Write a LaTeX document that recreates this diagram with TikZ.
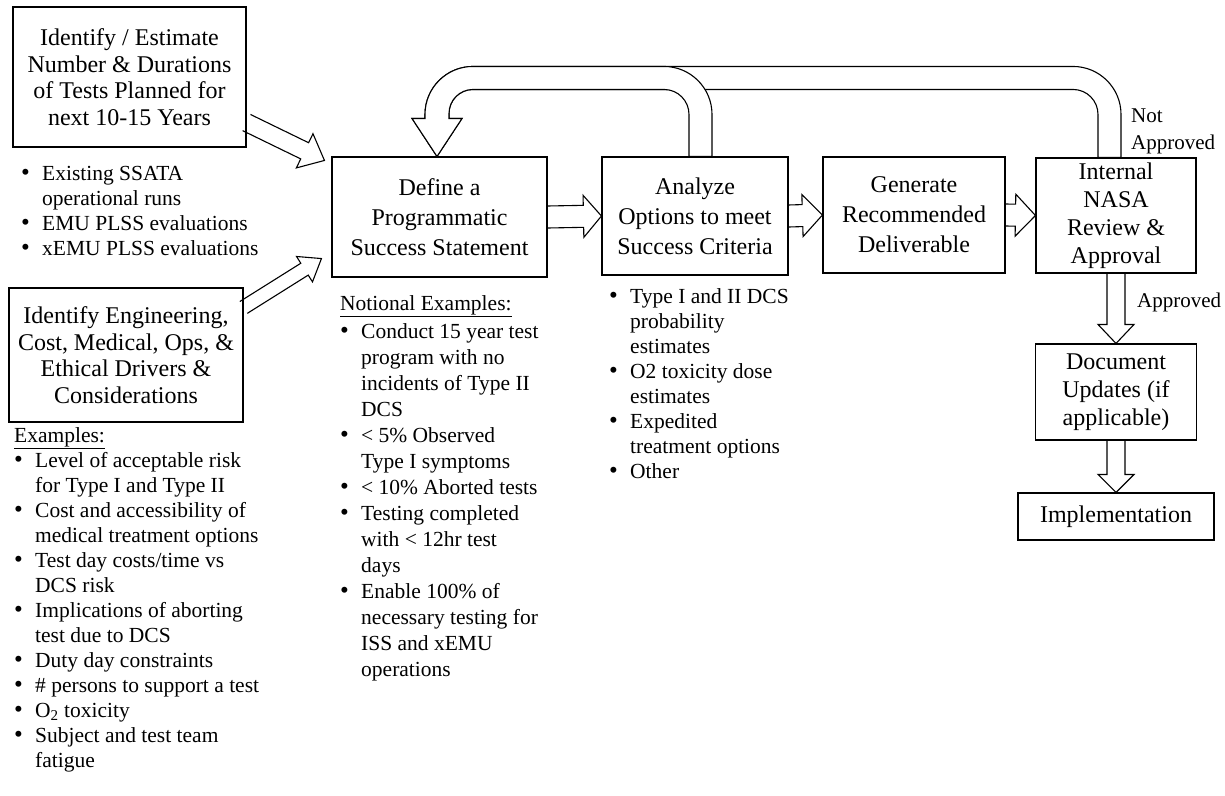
\documentclass[tikz,border=0pt]{standalone}
\usepackage{fontspec}
\setmainfont{Liberation Serif}
\usetikzlibrary{calc}
\newcommand{\itm}{\makebox[21pt][l]{\raisebox{-0.5pt}{\fontsize{25}{0}\selectfont\textbullet}}}
\newcommand{\cnt}{\hspace*{21pt}}
\newcommand{\fatarrow}[5]{%
  \coordinate (fa-b) at ($(#5)!#3pt!(#4)$);
  \draw[blockar] ($(#4)!#1pt!90:(#5)$) -- ($(fa-b)!#1pt!90:(#5)$) -- ($(fa-b)!#2pt!90:(#5)$) -- (#5)
     -- ($(fa-b)!#2pt!-90:(#5)$) -- ($(fa-b)!#1pt!-90:(#5)$) -- ($(#4)!#1pt!-90:(#5)$);}

\begin{document}
\begin{tikzpicture}[x=1pt,y=1pt,
  box/.style n args={3}{draw,fill=white,line width=1.1pt,inner sep=0pt,align=center,minimum width=#1pt,minimum height=#2pt,font=\fontsize{24}{#3}\selectfont},
  notes/.style={inner sep=0pt,align=left,anchor=north west,font=\fontsize{21.5}{25}\selectfont},
  blockar/.style={line width=1.1pt,line join=miter},
  loopar/.style={draw,fill=white,line width=1.1pt}]
\useasboundingbox (0,0) rectangle (1225,-795);

\node[box={233}{140}{26.5}] (idest) at (129.5,-77) {Identify / Estimate\\Number \& Durations\\of Tests Planned for\\next 10-15 Years};
\node[box={234}{134}{26.5}] (iddrv) at (126,-355) {Identify Engineering,\\Cost, Medical, Ops, \&\\Ethical Drivers \&\\Considerations};
\node[box={215}{120}{30}] (def) at (439.5,-217) {Define a\\Programmatic\\Success Statement};
\node[box={186}{118}{30}] (ana) at (695,-216) {Analyze\\Options to meet\\Success Criteria};
\node[box={182}{116}{30}] (gen) at (914,-215) {Generate\\Recommended\\Deliverable};
\node[box={160}{115}{28}] (rev) at (1116,-215.5) {Internal\\NASA\\Review \&\\Approval};
\node[box={161}{96}{28}] (doc) at (1116,-392) {Document\\Updates (if\\applicable)};
\node[box={196}{47}{28}] (impl) at (1116,-516.5) {Implementation};

\node[notes] (runs) at (21,-166) {\itm Existing SSATA\\\cnt operational runs\\\itm EMU PLSS evaluations\\\itm xEMU PLSS evaluations};
\node[notes] (drivers) at (14,-427) {\underline{Examples:}\\
\itm Level of acceptable risk\\\cnt for Type I and Type II\\
\itm Cost and accessibility of\\\cnt medical treatment options\\
\itm Test day costs/time vs\\\cnt DCS risk\\
\itm Implications of aborting\\\cnt test due to DCS\\
\itm Duty day constraints\\
\itm \# persons to support a test\\
\itm O\textsubscript{2} toxicity\\
\itm Subject and test team\\\cnt fatigue};
\node[notes,font=\fontsize{21.5}{26}\selectfont] (notional) at (340,-295) {\underline{Notional Examples:}\\[2pt]
\itm Conduct 15 year test\\\cnt program with no\\\cnt incidents of Type II\\\cnt DCS\\
\itm < 5\% Observed\\\cnt Type I symptoms\\
\itm < 10\% Aborted tests\\
\itm Testing completed\\\cnt with < 12hr test\\\cnt days\\
\itm Enable 100\% of\\\cnt necessary testing for\\\cnt ISS and xEMU\\\cnt operations};
\node[notes] (options) at (609,-288) {\itm Type I and II DCS\\\cnt probability\\\cnt estimates\\
\itm O2 toxicity dose\\\cnt estimates\\
\itm Expedited\\\cnt treatment options\\
\itm Other};

\node[anchor=west,align=left,inner sep=0pt,font=\fontsize{21}{27}\selectfont] (notappr) at (1131,-131) {Not\\Approved};
\node[anchor=west,inner sep=0pt,font=\fontsize{21}{27}\selectfont] (appr) at (1137,-302) {Approved};

\coordinate (ua) at ($(idest.south east)+(0,25)$);
\coordinate (ub) at ($(def.north west)+(-7,-4)$);
\coordinate (la) at ($(iddrv.north east)+(0,-20)$);
\coordinate (lb) at ($(def.south west)+(-10,19)$);
\fatarrow{9}{19}{22}{ua}{ub}
\fatarrow{7}{15}{20}{la}{lb}
\fatarrow{11}{21}{18}{def.east}{ana.west}
\fatarrow{11}{21}{20}{ana.east}{gen.west}
\fatarrow{11}{21}{20}{gen.east}{rev.west}
\fatarrow{9}{18}{19}{rev.south}{doc.north}
\fatarrow{9}{18}{18}{doc.south}{impl.north}

\coordinate (tip) at ($(def.north)+(-2.5,0)$);
\draw[loopar] ($(rev.north)+(-18,0)$) -- ++(0,43) arc[start angle=0,end angle=90,radius=25] -- ++(-600,0)
   arc[start angle=90,end angle=180,radius=24] -- ++(0,-5) -- ++(13,0) -- (tip) -- ++(-25,38) -- ++(13,0)
   -- ++(0,4) arc[start angle=180,end angle=90,radius=48] -- ++(600,0) arc[start angle=90,end angle=0,radius=48] -- ++(0,-43) -- cycle;
\draw[loopar] ($(ana.north)+(-6,0)$) -- ++(0,42) arc[start angle=0,end angle=90,radius=25] -- ++(-191,0)
   arc[start angle=90,end angle=180,radius=24] -- ++(0,-5) -- ++(13,0) -- (tip) -- ++(-25,38) -- ++(13,0)
   -- ++(0,4) arc[start angle=180,end angle=90,radius=48] -- ++(191,0) arc[start angle=90,end angle=0,radius=48] -- ++(0,-42) -- cycle;
\end{tikzpicture}
\end{document}
